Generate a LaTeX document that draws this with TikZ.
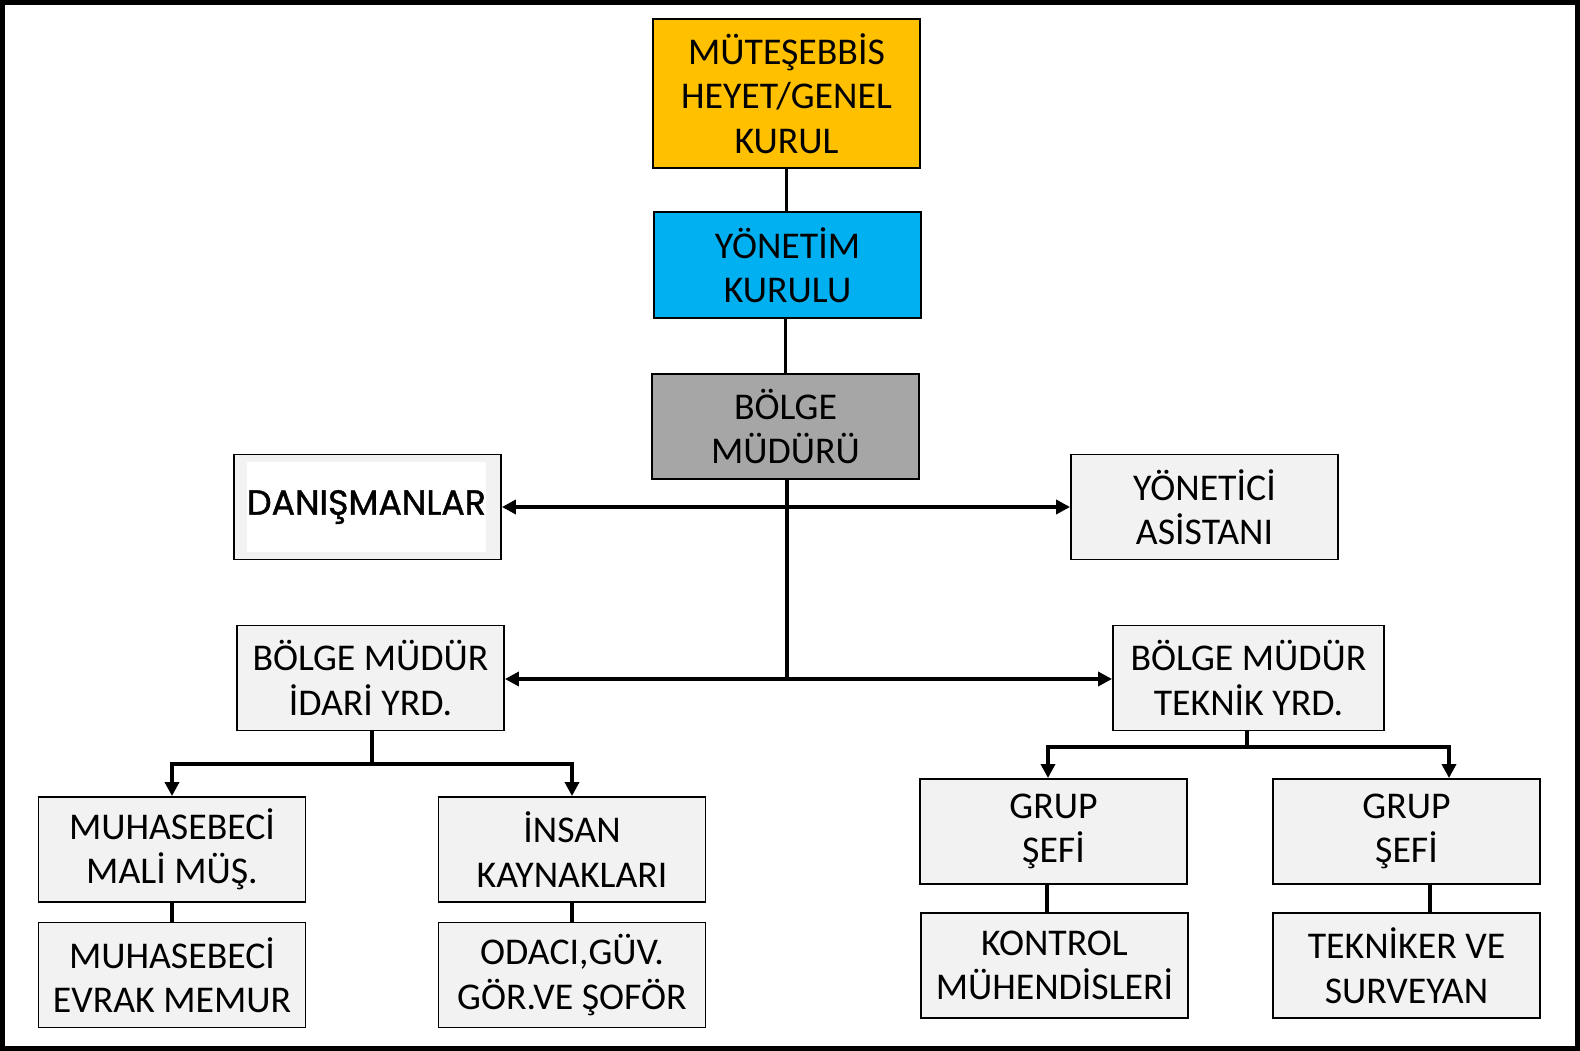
\documentclass[tikz,border=0pt]{standalone}
\usepackage{fontspec}
\setmainfont{Carlito}
\newfontfamily\gothfont[FakeBold=1.2]{Poppins}
\usetikzlibrary{arrows.meta}

\definecolor{orangebox}{HTML}{FFC000}
\definecolor{bluebox}{HTML}{00B0F0}
\definecolor{graybox}{HTML}{A6A6A6}
\definecolor{lightbox}{HTML}{F2F2F2}

\begin{document}
\begin{tikzpicture}[x=0.02cm, y=-0.02cm,
	box/.style={draw, line width=1.1pt, fill=lightbox, minimum width=5.34cm, minimum height=2.1cm, inner sep=0pt, align=center, font=\fontsize{21.5pt}{25.3pt}\selectfont},
	lnk/.style={line width=2.4pt},
	thinlnk/.style={line width=2pt},
	arr/.style={lnk, -{Triangle[length=0.28cm, width=0.28cm]}}]
			\useasboundingbox (0,0) rectangle (1580,1051);
			\draw[line width=0.1cm] (2.5,2.5) rectangle (1577.5,1048.5);

			% Nodes
			\node[box, fill=orangebox, minimum height=2.98cm] (mh) at (786.5, 93.5) {MÜTEŞEBBİS\\HEYET/GENEL\\KURUL};
			\node[box, fill=bluebox, minimum height=2.12cm] (yk) at (787.5, 265) {YÖNETİM\\KURULU};
			\node[box, fill=graybox] (bm) at (785.5, 426.5) {BÖLGE\\MÜDÜRÜ};

			\node[box] (dan) at (367.5, 507) {};
			\node[fill=white, minimum width=4.66cm, minimum height=1.8cm, inner sep=0pt, font=\gothfont\fontsize{19.8pt}{22pt}\selectfont] (danT) at (366.5, 507) {DANIŞMANLAR};
			\node[box] (ya) at (1204.5, 507) {YÖNETİCİ\\ASİSTANI};

			\node[box] (idr) at (370.5, 678) {BÖLGE MÜDÜR\\İDARİ YRD.};
			\node[box, minimum width=5.42cm] (tek) at (1248.5, 678) {BÖLGE MÜDÜR\\TEKNİK YRD.};

			\node[box] (muh1) at (172, 849.5) {MUHASEBECİ\\MALİ MÜŞ.};
			\node[box] (ik) at (572, 849.5) {İNSAN\\KAYNAKLARI};
			\node[box] (muh2) at (172, 975) {MUHASEBECİ\\EVRAK MEMUR};
			\node[box] (oda) at (572, 975) {ODACI,GÜV.\\GÖR.VE ŞOFÖR};

			\node[box] (grp1) at (1053.5, 831.5) {GRUP\\ŞEFİ};
			\node[box] (grp2) at (1406.5, 831.5) {GRUP\\ŞEFİ};
			\node[box] (kon) at (1054.5, 965.5) {KONTROL\\MÜHENDİSLERİ};
			\node[box] (tkn) at (1406.5, 965.5) {TEKNİKER VE\\SURVEYAN};

			% Edges
			\draw[thinlnk] (mh.south) -- (mh.south |- yk.north);
			\draw[thinlnk] (bm.north |- yk.south) -- (bm.north);

			\coordinate (hub) at (787, 679);
			\draw[lnk] (hub |- bm.south) -- (hub);
			\draw[arr] (hub |- dan.east) -- (dan.east);
			\draw[arr] (hub |- ya.west) -- (ya.west);
			\draw[arr] (hub) -- (hub -| idr.east);
			\draw[arr] (hub) -- (hub -| tek.west);

			\coordinate (idrhub) at (372, 764);
			\draw[lnk] (idrhub |- idr.south) -- (idrhub);
			\draw[arr] (idrhub) -| (muh1.north);
			\draw[arr] (idrhub) -| (ik.north);

			\coordinate (tekhub) at (1247, 747);
			\draw[lnk] (tekhub |- tek.south) -- (tekhub);
			\draw[arr] (tekhub) -| ([xshift=-0.11cm]grp1.north);
			\draw[arr] (tekhub) -| ([xshift=0.85cm]grp2.north);

			\draw[lnk] (muh1.south) -- (muh2.north);
			\draw[lnk] (ik.south) -- (oda.north);
			\draw[lnk] ([xshift=-0.13cm]grp1.south) coordinate (g1) -- (g1 |- kon.north);
			\draw[lnk] ([xshift=0.47cm]grp2.south) coordinate (g2) -- (g2 |- tkn.north);
		\end{tikzpicture}
\end{document}
